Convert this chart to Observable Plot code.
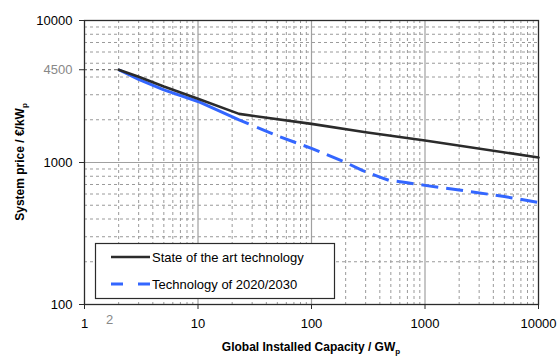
<!DOCTYPE html>
<html>
<head>
<meta charset="utf-8">
<script src="https://cdn.jsdelivr.net/npm/d3@7"></script>
<script src="https://cdn.jsdelivr.net/npm/@observablehq/plot@0.6"></script>
<style>
  html, body { margin: 0; padding: 0; background: #fff; }
  svg { display: block; }
</style>
</head>
<body>
<div id="chart"></div>
<script>
// ---- data ----
const seriesNames = ["State of the art technology", "Technology of 2020/2030"];
const stateX = [2, 3, 5, 10, 23, 100, 300, 1000, 10000];
const stateY = [4500, 4020, 3430, 2810, 2200, 1870, 1635, 1430, 1085];
const futureX = [2, 3, 5, 10, 23, 50, 100, 200, 280, 400, 480, 700, 1000, 2000, 5000, 10000];
const futureY = [4500, 3850, 3250, 2690, 1995, 1540, 1258, 1000, 880, 790, 750, 720, 690, 640, 576, 523];
const xTicks = [1, 10, 100, 1000, 10000];
const xExtraTicks = [2];
const yTicks = [100, 1000, 10000];
const yExtraTicks = [4500];
const xTitle = ["Global Installed Capacity / GW", "p"];
const yTitle = ["System price / €/kW", "p"];

// gridline positions (minor = 2..9 within each decade)
const majorX = [10, 100, 1000];
const majorY = [1000];
const minorX = [], minorY = [];
for (const d of [1, 10, 100, 1000]) for (let k = 2; k <= 9; k++) minorX.push(k * d);
for (const d of [100, 1000]) for (let k = 2; k <= 9; k++) minorY.push(k * d);

const stateData = stateX.map((x, i) => ({x, y: stateY[i]}));
const futureData = futureX.map((x, i) => ({x, y: futureY[i]}));

const blue = "#3366ff";
const dark = "#2b2b2b";
let dash = "141,9";
for (let i = 0; i < 30; i++) dash += ",17,8";

const chart = Plot.plot({
  width: 557,
  height: 356,
  marginLeft: 84,
  marginRight: 19,
  marginTop: 20,
  marginBottom: 52,
  x: {type: "log", domain: [1, 10000]},
  y: {type: "log", domain: [100, 10000]},
  style: {fontFamily: "'Liberation Sans', Arial, sans-serif", fontSize: "13px", color: "#000", background: "#fff"},
  marks: [
    Plot.ruleX(minorX, {stroke: "#9a9a9a", strokeWidth: 1, strokeDasharray: "3,3", strokeOpacity: 1}),
    Plot.ruleY(minorY, {stroke: "#9a9a9a", strokeWidth: 1, strokeDasharray: "3,3", strokeOpacity: 1}),
    Plot.ruleX(majorX, {stroke: "#a0a0a0", strokeWidth: 1.2}),
    Plot.ruleY(majorY, {stroke: "#a0a0a0", strokeWidth: 1.2}),
    Plot.ruleY(yExtraTicks, {x1: 1, x2: 2, stroke: "#555", strokeDasharray: "3,3"}),
    Plot.frame({stroke: dark, strokeWidth: 1.3}),
    Plot.axisX({ticks: xTicks, tickFormat: d => String(d), tickSize: 5, tickPadding: 9, label: null, stroke: dark, fill: "#000"}),
    Plot.text(xExtraTicks, {x: d => d, frameAnchor: "bottom", dy: 19, dx: -9, text: d => String(d), fill: "#888", fontSize: 13}),
    Plot.axisY({ticks: yTicks, tickFormat: d => String(d), tickSize: 5, tickPadding: 7, label: null, stroke: dark, fill: "#000"}),
    Plot.axisY({ticks: yExtraTicks, tickFormat: d => String(d), tickSize: 5, tickPadding: 7, label: null, stroke: dark, fill: "#888"}),
    Plot.line(futureData, {x: "x", y: "y", stroke: blue, strokeWidth: 3, strokeDasharray: dash, strokeLinecap: "butt"}),
    Plot.line(stateData, {x: "x", y: "y", stroke: dark, strokeWidth: 2.6})
  ]
});

document.getElementById("chart").appendChild(chart);

// axis titles and legend
const svg = d3.select(chart);
const font = "'Liberation Sans', Arial, sans-serif";

const xt = svg.append("text")
  .attr("x", 311).attr("y", 351)
  .attr("text-anchor", "middle")
  .attr("font-family", font).attr("font-size", 12).attr("font-weight", "bold").attr("fill", "#000");
xt.append("tspan").text(xTitle[0]);
xt.append("tspan").attr("font-size", 8).attr("dy", 3).text(xTitle[1]);

const yt = svg.append("text")
  .attr("transform", "translate(24,162) rotate(-90)")
  .attr("text-anchor", "middle")
  .attr("font-family", font).attr("font-size", 12).attr("font-weight", "bold").attr("fill", "#000");
yt.append("tspan").text(yTitle[0]);
yt.append("tspan").attr("font-size", 8).attr("dy", 3).text(yTitle[1]);

const lg = svg.append("g");
lg.append("rect").attr("x", 95.5).attr("y", 243.5).attr("width", 239).attr("height", 55)
  .attr("fill", "#fff").attr("stroke", dark).attr("stroke-width", 1.2);
const rows = [
  {name: seriesNames[0], stroke: dark, dash: null, w: 2.6},
  {name: seriesNames[1], stroke: blue, dash: "12,15", w: 3}
];
rows.forEach((r, i) => {
  const y = 257 + i * 27;
  lg.append("line").attr("x1", 111).attr("x2", 150).attr("y1", y).attr("y2", y)
    .attr("stroke", r.stroke).attr("stroke-width", r.w).attr("stroke-dasharray", r.dash);
  lg.append("text").attr("x", 152).attr("y", y).attr("dy", "0.36em")
    .attr("text-anchor", "start")
    .attr("font-family", font).attr("font-size", 13).attr("fill", "#000").text(r.name);
});
</script>
</body>
</html>
